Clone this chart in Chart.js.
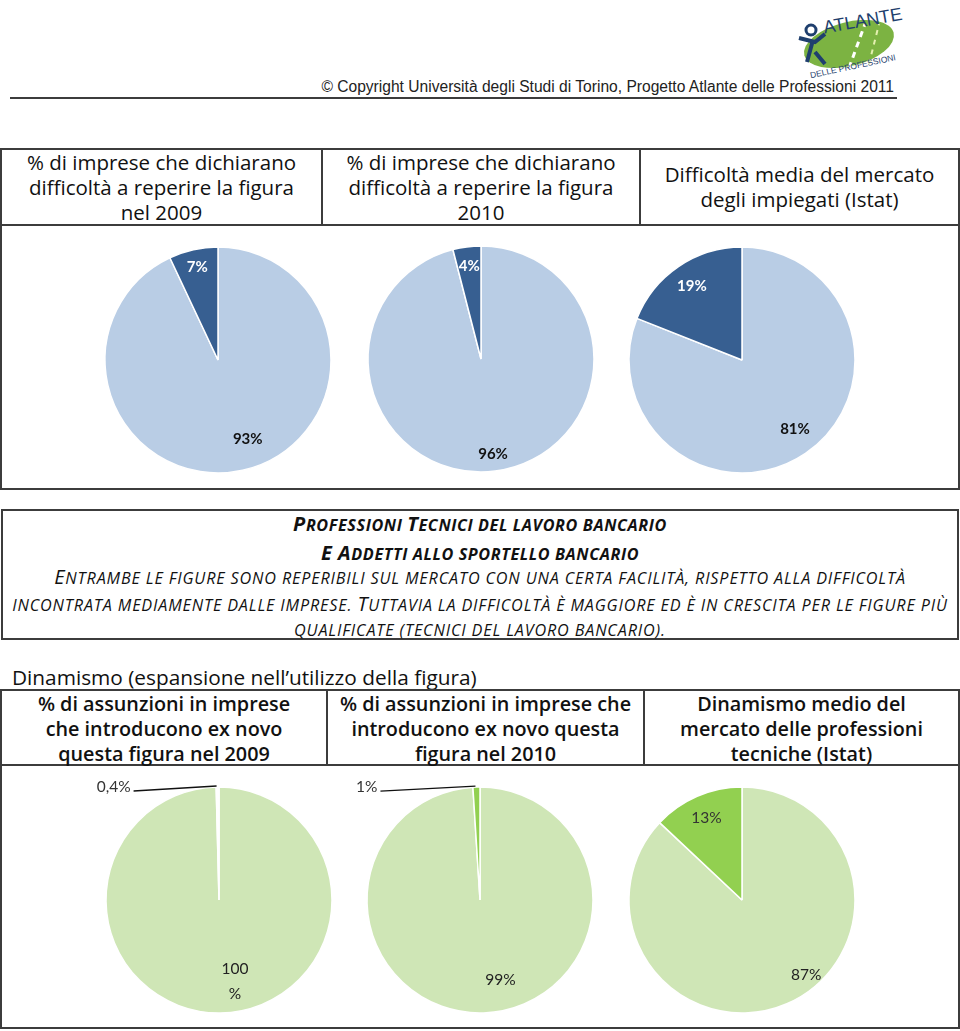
<!DOCTYPE html>
<html>
<head>
<meta charset="utf-8">
<script src="https://cdn.jsdelivr.net/npm/chart.js@4/dist/chart.umd.min.js"></script>
<style>
  body { margin: 0; background: #fff; width: 960px; height: 1031px; position: relative; overflow: hidden; font-family: "Open Sans", sans-serif; color: #111; }
  .abs { position: absolute; }
  .line { position: absolute; background: #3c3c3c; }
  .hdr { position: absolute; text-align: center; font-size: 20.5px; line-height: 25px; white-space: nowrap; font-weight: 500; }
  .box { position: absolute; border: 2px solid #3c3c3c; box-sizing: border-box; }
  .note { position: absolute; left: 0; width: 960px; text-align: center; white-space: nowrap; font-style: italic; text-transform: uppercase; font-size: 16.2px; letter-spacing: 0.85px; }
  .note b { font-size: 20px; font-weight: inherit; }
  .pie { position: absolute; }
</style>
</head>
<body>

<!-- logo -->
<svg class="abs" style="left:793px; top:0px" width="112" height="78" viewBox="0 0 112 78">
  <ellipse cx="56" cy="44" rx="46" ry="22" fill="#7cb342" transform="rotate(-14 56 44)"/>
  <path d="M56 68 L72 24" stroke="#ffffff" stroke-width="3" stroke-dasharray="6 5"/>
  <path d="M76 64 L86 24" stroke="#e4f0b0" stroke-width="2" stroke-dasharray="5 5"/>
  <circle cx="18" cy="30" r="5" fill="none" stroke="#1f3f6e" stroke-width="3"/>
  <path d="M6 38 L22 42 L32 34 M20 40 L14 62 M22 52 L32 64" stroke="#1f3f6e" stroke-width="4" fill="none"/>
  <text x="30" y="28" font-family="Liberation Sans Narrow, Liberation Sans" font-size="18" fill="#1f3f6e" transform="rotate(-10 62 22)">ATLANTE</text>
  <text x="16" y="70" font-family="Liberation Sans Narrow, Liberation Sans" font-size="8.5" fill="#1f3f6e" transform="rotate(-12 56 66)">DELLE PROFESSIONI</text>
</svg>

<div class="abs" style="right:66px; top:78px; font-family:'Liberation Sans'; font-size:15.6px; color:#222; white-space:nowrap;">&copy; Copyright Università degli Studi di Torino, Progetto Atlante delle Professioni 2011</div>
<div class="line" style="left:10px; top:97px; width:887px; height:2px;"></div>

<!-- top table -->
<div class="box" style="left:0px; top:148px; width:960px; height:342px;"></div>
<div class="line" style="left:0px; top:224px; width:960px; height:2px;"></div>
<div class="line" style="left:321px; top:148px; width:2px; height:77px;"></div>
<div class="line" style="left:639px; top:148px; width:2px; height:77px;"></div>
<div class="hdr" style="left:2px; top:150px; width:319px;">% di imprese che dichiarano<br>difficoltà a reperire la figura<br>nel 2009</div>
<div class="hdr" style="left:323px; top:150px; width:316px;">% di imprese che dichiarano<br>difficoltà a reperire la figura<br>2010</div>
<div class="hdr" style="left:641px; top:162px; width:317px;">Difficoltà media del mercato<br>degli impiegati (Istat)</div>

<div class="pie" style="left:88px; top:235px; width:260px; height:250px;"><canvas id="p1"></canvas></div>
<div class="pie" style="left:351px; top:234px; width:260px; height:250px;"><canvas id="p2"></canvas></div>
<div class="pie" style="left:612px; top:235px; width:260px; height:250px;"><canvas id="p3"></canvas></div>

<!-- note box -->
<div class="box" style="left:1px; top:509px; width:958px; height:131px;"></div>
<div class="note" style="top:510px; line-height:27px; font-weight:700; letter-spacing:0.6px;"><b>P</b>rofessioni <b>T</b>ecnici del lavoro bancario<br><b>e A</b>ddetti allo sportello bancario</div>
<div class="note" style="top:564px; line-height:25px;"><b>E</b>ntrambe le figure sono reperibili sul mercato con una certa facilità, rispetto alla difficoltà<br>incontrata mediamente dalle imprese. <b>T</b>uttavia la difficoltà è maggiore ed è in crescita per le figure più<br>qualificate (tecnici del lavoro bancario).</div>

<div class="abs" style="left:12px; top:664px; font-size:20.8px; line-height:26px; white-space:nowrap; font-weight:500;">Dinamismo (espansione nell’utilizzo della figura)</div>

<!-- bottom table -->
<div class="box" style="left:0px; top:689px; width:960px; height:340px;"></div>
<div class="line" style="left:0px; top:764px; width:960px; height:2px;"></div>
<div class="line" style="left:326px; top:689px; width:2px; height:77px;"></div>
<div class="line" style="left:643px; top:689px; width:2px; height:77px;"></div>
<div class="hdr" style="left:2px; top:691px; width:324px; font-weight:600; font-size:19.8px;">% di assunzioni in imprese<br>che introducono ex novo<br>questa figura nel 2009</div>
<div class="hdr" style="left:328px; top:691px; width:315px; font-weight:600; font-size:19.8px;">% di assunzioni in imprese che<br>introducono ex novo questa<br>figura nel 2010</div>
<div class="hdr" style="left:645px; top:691px; width:313px; font-weight:600; font-size:19.8px;">Dinamismo medio del<br>mercato delle professioni<br>tecniche (Istat)</div>

<div class="pie" style="left:69px; top:775px; width:300px; height:250px;"><canvas id="p4"></canvas></div>
<div class="pie" style="left:330px; top:775px; width:300px; height:250px;"><canvas id="p5"></canvas></div>
<div class="pie" style="left:592px; top:775px; width:300px; height:250px;"><canvas id="p6"></canvas></div>

<script>
// share of firms / hires: [rest, highlighted share]
let categories = ["Altre imprese", "Imprese interessate"];

let diff2009 = [93, 7];
let diff2010 = [96, 4];
let diffIstat = [81, 19];
let dyn2009 = [99.6, 0.4];
let dyn2010 = [99, 1];
let dynIstat = [87, 13];

let diff2009Labels = ["93%", "7%"];
let diff2010Labels = ["96%", "4%"];
let diffIstatLabels = ["81%", "19%"];
let dyn2009Labels = ["100\n%", "0,4%"];
let dyn2010Labels = ["99%", "1%"];
let dynIstatLabels = ["87%", "13%"];

let blueLight = "#b9cde5";
let blueDark = "#375f91";
let greenLight = "#cfe6b6";
let greenDark = "#92d050";

// draws the percentage labels on each slice (or with a leader line for tiny ones)
const pieLabels = {
  id: "pieLabels",
  afterDatasetsDraw(chart) {
    const ctx = chart.ctx;
    const cfg = chart.options.plugins.pieLabels;
    const meta = chart.getDatasetMeta(0);
    meta.data.forEach((arc, i) => {
      const p = arc.getProps(["x", "y", "startAngle", "endAngle", "outerRadius"], true);
      const mid = (p.startAngle + p.endAngle) / 2;
      ctx.save();
      ctx.font = cfg.font;
      ctx.fillStyle = cfg.colors[i];
      ctx.textBaseline = "middle";
      if (cfg.leader && cfg.leader[i]) {
        const ox = p.x + Math.cos(mid) * p.outerRadius;
        const oy = p.y + Math.sin(mid) * p.outerRadius;
        const lx = ox - cfg.leader[i];
        ctx.strokeStyle = "#111";
        ctx.lineWidth = 1.3;
        ctx.beginPath();
        ctx.moveTo(ox - 1, oy - 1);
        ctx.lineTo(lx, oy + 4);
        ctx.stroke();
        ctx.textAlign = "right";
        ctx.fillText(cfg.texts[i], lx - 3, oy);
      } else {
        const d = p.outerRadius * cfg.dist[i];
        const tx = p.x + Math.cos(mid) * d + (cfg.dx ? cfg.dx[i] : 0);
        const ty = p.y + Math.sin(mid) * d;
        const lines = cfg.texts[i].split("\n");
        ctx.textAlign = "center";
        lines.forEach((t, k) => {
          ctx.fillText(t, tx, ty + (k - (lines.length - 1) / 2) * 25);
        });
      }
      ctx.restore();
    });
  }
};

function makePie(id, values, colors, labelCfg) {
  return new Chart(document.getElementById(id), {
    type: "pie",
    data: {
      labels: categories,
      datasets: [{
        data: values,
        backgroundColor: colors,
        borderColor: "#ffffff",
        borderWidth: 1.5,
        hoverOffset: 0
      }]
    },
    options: {
      responsive: true,
      maintainAspectRatio: false,
      animation: false,
      radius: 113,
      layout: { padding: 0 },
      plugins: {
        legend: { display: false },
        tooltip: { enabled: false },
        pieLabels: labelCfg
      }
    },
    plugins: [pieLabels]
  });
}

let boldFont = "bold 15px Lato";
let plainFont = "15.5px Lato";

makePie("p1", diff2009, [blueLight, blueDark], { texts: diff2009Labels, font: boldFont, colors: ["#111", "#fff"], dist: [0.72, 0.84], dx: [12, 0] });
makePie("p2", diff2010, [blueLight, blueDark], { texts: diff2010Labels, font: boldFont, colors: ["#111", "#fff"], dist: [0.85, 0.83] });
makePie("p3", diffIstat, [blueLight, blueDark], { texts: diffIstatLabels, font: boldFont, colors: ["#111", "#fff"], dist: [0.74, 0.79], dx: [6, 0] });

makePie("p4", dyn2009, [greenLight, "#ffffff"], { texts: dyn2009Labels, font: plainFont, colors: ["#222", "#333"], dist: [0.72, 0], dx: [15, 0], leader: [0, 84] });
makePie("p5", dyn2010, [greenLight, greenDark], { texts: dyn2010Labels, font: plainFont, colors: ["#222", "#333"], dist: [0.71, 0], dx: [18, 0], leader: [0, 96] });
makePie("p6", dynIstat, [greenLight, greenDark], { texts: dynIstatLabels, font: plainFont, colors: ["#222", "#333"], dist: [0.72, 0.79], dx: [32, 0] });
</script>
</body>
</html>
